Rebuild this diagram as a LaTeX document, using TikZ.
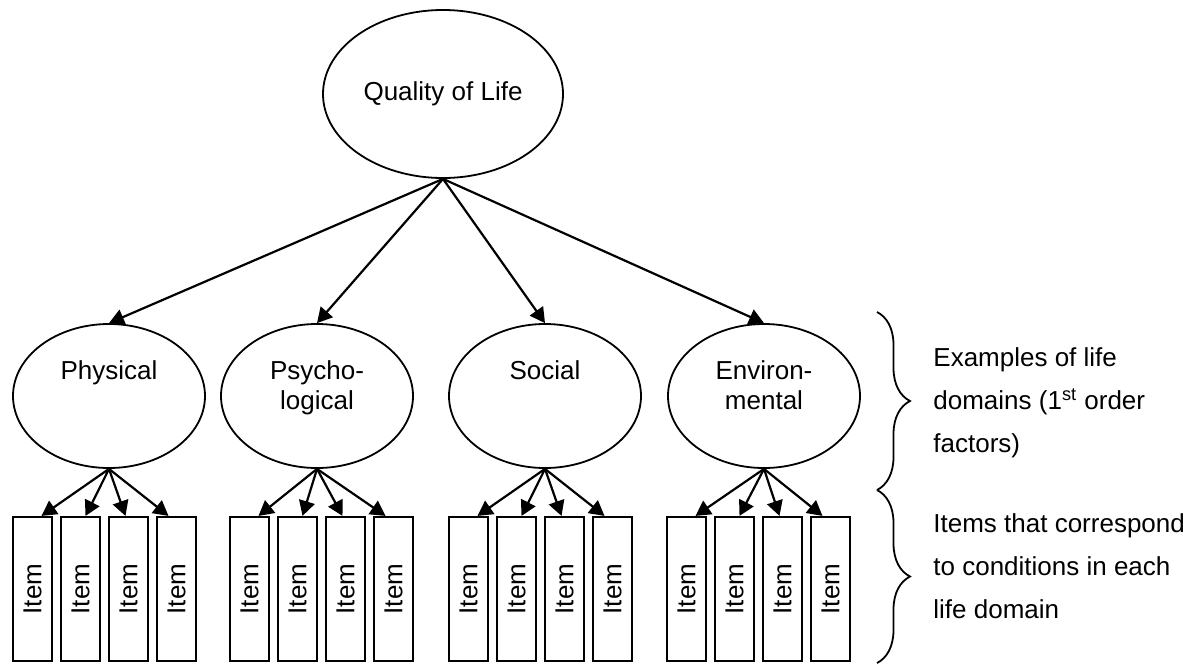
\documentclass[tikz,border=0pt]{standalone}
\usepackage{fontspec}
\setmainfont{Liberation Sans}
\usetikzlibrary{shapes.geometric,arrows.meta,calc,decorations.pathreplacing}

\begin{document}
\begin{tikzpicture}[x=0.5pt,y=-0.5pt,
  big/.style={ellipse, draw, line width=0.9pt, minimum width=120pt, minimum height=84pt, inner sep=0pt},
  dom/.style={ellipse, draw, line width=0.9pt, minimum width=96pt, minimum height=72pt, inner sep=0pt},
  itembox/.style={draw, line width=1.1pt, minimum width=19.5pt, minimum height=72pt, inner sep=0pt,
    font=\fontsize{13pt}{15pt}\selectfont},
  lbl/.style={font=\fontsize{13pt}{15pt}\selectfont, align=center, inner sep=0pt, anchor=base},
  note/.style={font=\fontsize{13pt}{21.5pt}\selectfont, align=left, inner sep=0pt, anchor=base west},
  link/.style={line width=1.1pt, -{Triangle[length=7.5pt,width=8pt]}},
  curly/.style={decorate, decoration={brace, amplitude=16.5pt}, line width=0.9pt}
]
\useasboundingbox (0,0) rectangle (1197,665);

% second-order factor
\node[big] (qol) at (443,94) {};
\node[lbl] (qolT) at (443,100) {Quality of Life};

% life domains (the base anchor of a two-line label sits on its last line)
\node[dom] (phys) at (109,396) {};
\node[dom] (psy)  at (317,396) {};
\node[dom] (soc)  at (545,396) {};
\node[dom] (env)  at (764,396) {};
\node[lbl] (physT) at (109,379) {Physical};
\node[lbl] (psyT)  at (317,409) {Psycho-\\logical};
\node[lbl] (socT)  at (545,379) {Social};
\node[lbl] (envT)  at (764,409) {Environ-\\mental};

\foreach \d in {phys,psy,soc,env}
  \draw[link] (qol.south) -- (\d.north);

% items of each domain
\foreach \g/\gx in {phys/13, psy/230, soc/449, env/667} {
  \foreach \dx [count=\j from 0] in {9,5,-3,-8} {
    \node[itembox] (\g\j) at ({\gx+19.5+48*\j},589) {\rotatebox{90}{Item}};
    \draw[link] (\g.south) -- ($(\g\j.north)+(\dx,0)$);
  }
}

% braces and notes
\coordinate (bA) at (877,312);
\coordinate (bB) at (877,490);
\coordinate (bC) at (877,663);
\draw[curly] (bA) -- (bB);
\draw[curly] (bB) -- (bC);
\node[note] (domNote) at (933,452) {Examples of life\\domains (1\textsuperscript{st} order\\factors)};
\node[note] (itemNote) at (933,618) {Items that correspond\\to conditions in each\\life domain};
\end{tikzpicture}
\end{document}
